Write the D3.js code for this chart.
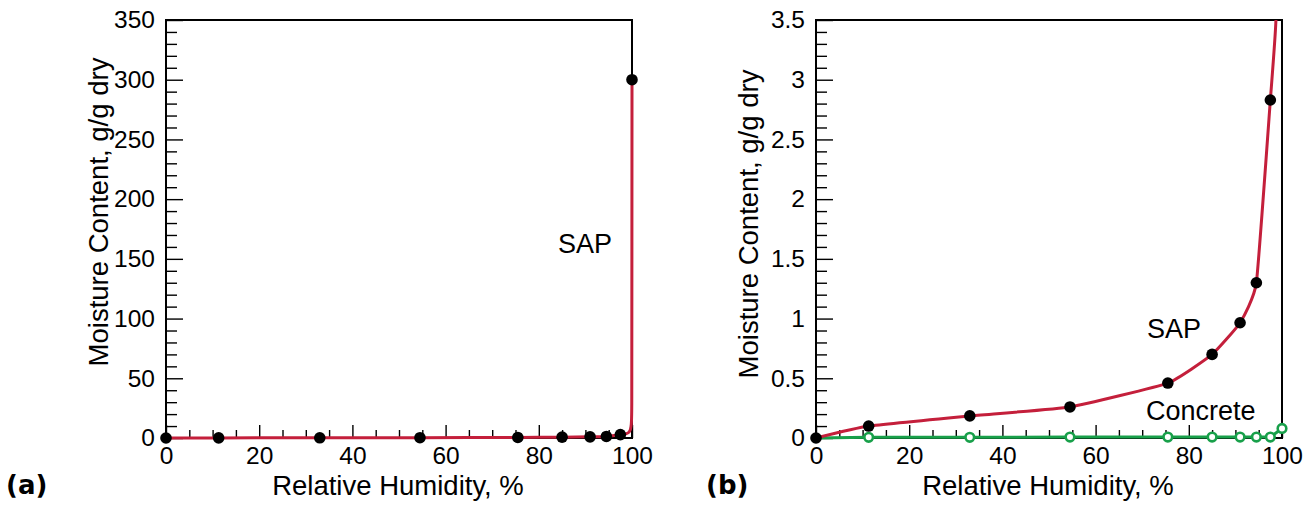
<!DOCTYPE html>
<html>
<head>
<meta charset="utf-8">
<script src="https://cdn.jsdelivr.net/npm/d3@7"></script>
<style>
  html, body { margin: 0; padding: 0; background: #fff; }
  svg { display: block; font-family: "Liberation Sans", Arial, sans-serif; }
</style>
</head>
<body>
<svg id="chart" width="1305" height="507"></svg>
<script>
// ---- data ----
const rh = [0, 11.3, 33, 54.5, 75.5, 85, 91, 94.5, 97.5, 100];
const sapMC = [0, 0.10, 0.185, 0.26, 0.46, 0.70, 0.965, 1.30, 2.83, 300];
const concreteRH = [0, 11.3, 33, 54.5, 75.5, 85, 91, 94.5, 97.5, 100];
const concreteMC = [0, 0.006, 0.006, 0.008, 0.008, 0.008, 0.008, 0.008, 0.008, 0.08];
// fitted SAP curve
const fitRH = [0, 11.3, 33, 54.5, 75.5, 85, 91, 94.5, 97.5, 98.7, 99.4, 99.8, 99.95, 100];
const fitMC = [0, 0.10, 0.185, 0.26, 0.46, 0.70, 0.965, 1.30, 2.83, 3.5, 5, 10, 30, 300];
const xTicks = [0, 20, 40, 60, 80, 100];
const yTicksA = [0, 50, 100, 150, 200, 250, 300, 350];
const yTicksB = [0, 0.5, 1, 1.5, 2, 2.5, 3, 3.5];
const yTickLabelsB = ["0", "0.5", "1", "1.5", "2", "2.5", "3", "3.5"];

const RED = "#c41f3b", GREEN = "#18a04a";
const svg = d3.select("#chart");

function panel(opts) {
  const x = d3.scaleLinear().domain([0, 100]).range([opts.left, opts.right]);
  const y = d3.scaleLinear().domain(opts.yDomain).range([438, 20]);
  const g = svg.append("g");

  // frame
  g.append("rect").attr("x", opts.left).attr("y", 20)
    .attr("width", opts.right - opts.left).attr("height", 418)
    .attr("fill", "none").attr("stroke", "#000").attr("stroke-width", 2);

  // x axis
  const xMinor = d3.range(0, 101, 5).filter(v => v % 20 !== 0);
  g.append("g").attr("transform", `translate(0,438)`)
    .call(d3.axisBottom(x).tickValues(xTicks).tickSize(-13).tickPadding(9).tickFormat(d3.format("d")));
  g.append("g").attr("transform", `translate(0,438)`)
    .call(d3.axisBottom(x).tickValues(xMinor).tickSize(-8).tickFormat(""));

  // y axis
  g.append("g").attr("transform", `translate(${opts.left},0)`)
    .call(d3.axisLeft(y).tickValues(opts.yTicks).tickSize(-17).tickPadding(11)
      .tickFormat((d, i) => opts.yLabels[i]));
  g.append("g").attr("transform", `translate(${opts.left},0)`)
    .call(d3.axisLeft(y).tickValues(opts.yMinor).tickSize(-11).tickFormat(""));

  g.selectAll(".domain").remove();
  g.selectAll(".tick line").attr("stroke", "#000").attr("stroke-width", 1.4);
  g.selectAll(".tick text").attr("font-size", 24.5).attr("fill", "#000")
    .attr("font-family", "'Liberation Sans', Arial, sans-serif");

  // titles
  g.append("text").attr("x", (opts.left + opts.right) / 2 - 1).attr("y", 495)
    .attr("text-anchor", "middle").attr("font-size", 27.5).text("Relative Humidity, %");
  g.append("text").attr("transform", `translate(${opts.left - 58},${opts.titleCy}) rotate(-90)`)
    .attr("text-anchor", "middle").attr("font-size", 27.5).text("Moisture Content, g/g dry");
  g.append("text").attr("x", opts.tagX).attr("y", 494).attr("font-size", 26)
    .attr("font-family", "'DejaVu Sans', sans-serif")
    .attr("font-weight", "bold").text(opts.tag);

  // clip
  const cid = "clip" + opts.tag.replace(/\W/g, "");
  svg.append("clipPath").attr("id", cid).append("rect")
    .attr("x", opts.left - 10).attr("y", 20).attr("width", opts.right - opts.left + 20).attr("height", 430);

  const line = d3.line().x(d => x(d[0])).y(d => y(d[1])).curve(d3.curveCardinal.tension(0.6));

  if (opts.concrete) {
    const cData = concreteRH.map((r, i) => [r, concreteMC[i]]);
    g.append("path").datum(cData).attr("d", d3.line().x(d => x(d[0])).y(d => y(d[1])))
      .attr("fill", "none").attr("stroke", GREEN).attr("stroke-width", 3)
      .attr("clip-path", `url(#${cid})`);
    g.selectAll(".cdot").data(cData.slice(1)).join("circle")
      .attr("cx", d => x(d[0])).attr("cy", d => y(d[1])).attr("r", 4.3)
      .attr("fill", "#fff").attr("stroke", GREEN).attr("stroke-width", 2.6);
  }

  const fData = fitRH.map((r, i) => [r, fitMC[i]]);
  g.append("path").datum(fData).attr("d", line)
    .attr("fill", "none").attr("stroke", RED).attr("stroke-width", 3)
    .attr("clip-path", `url(#${cid})`);

  const sData = rh.map((r, i) => [r, sapMC[i]]).filter(d => d[1] <= opts.yDomain[1]);
  g.selectAll(".sdot").data(sData).join("circle")
    .attr("cx", d => x(d[0])).attr("cy", d => y(d[1])).attr("r", 5.8).attr("fill", "#000");

  opts.labels.forEach(l => {
    g.append("text").attr("x", l.x).attr("y", l.y).attr("font-size", 27).text(l.text);
  });
}

panel({
  left: 166, right: 632, yDomain: [0, 350], yTicks: yTicksA,
  yLabels: yTicksA.map(String), yMinor: d3.range(0, 351, 10).filter(v => v % 50 !== 0),
  titleCy: 212, tag: "(a)", tagX: 6, concrete: false,
  labels: [{ text: "SAP", x: 558, y: 253 }]
});

panel({
  left: 816, right: 1282, yDomain: [0, 3.5], yTicks: yTicksB,
  yLabels: yTickLabelsB, yMinor: d3.range(1, 35).filter(v => v % 5 !== 0).map(v => v / 10),
  titleCy: 224, tag: "(b)", tagX: 706, concrete: true,
  labels: [{ text: "SAP", x: 1147, y: 338 }, { text: "Concrete", x: 1146, y: 420 }]
});
</script>
</body>
</html>
